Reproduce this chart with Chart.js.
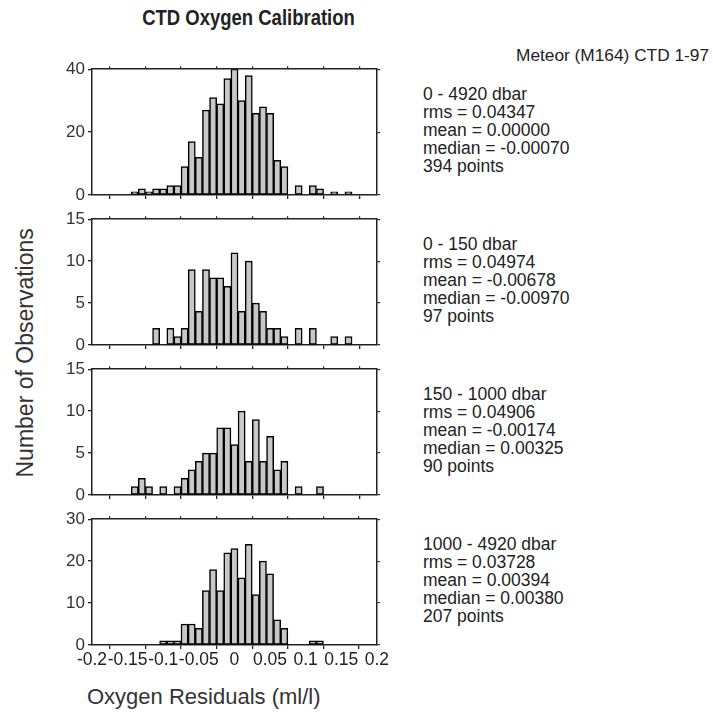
<!DOCTYPE html>
<html>
<head>
<meta charset="utf-8">
<script src="https://cdn.jsdelivr.net/npm/chart.js@4.4.0/dist/chart.umd.min.js"></script>
<style>
body { margin: 0; background: #fff; width: 713px; height: 718px; position: relative; overflow: hidden;
       font-family: "Liberation Sans", Arial, sans-serif; color: #222; }
canvas { position: absolute; }
.txt { position: absolute; white-space: nowrap; }
.stats { position: absolute; left: 423px; font-size: 17.5px; line-height: 18px; color: #222; white-space: nowrap; }
</style>
</head>
<body>
<div class="txt" style="left:0; width:497px; top:6px; text-align:center; font-weight:bold; font-size:21.5px; transform:scaleX(0.86);">CTD Oxygen Calibration</div>
<div class="txt" style="left:516px; top:45px; font-size:17.3px;">Meteor (M164) CTD 1-97</div>
<div class="txt" style="left:-98px; top:341px; width:246px; text-align:center; font-size:23px; color:#333; transform:rotate(-90deg);">Number of Observations</div>
<div class="txt" style="left:87px; top:684px; font-size:22px; color:#333;">Oxygen Residuals (ml/l)</div>

<script>
// bin centres (ml/l)
var binCenters = [-0.14, -0.13, -0.12, -0.11, -0.10, -0.09, -0.08, -0.07, -0.06, -0.05, -0.04,
	-0.03, -0.02, -0.01, 0, 0.01, 0.02, 0.03, 0.04, 0.05, 0.06, 0.07, 0.08, 0.09, 0.10,
	0.11, 0.12, 0.13, 0.14, 0.15, 0.16];

// counts per bin, one list per pressure range
var countsAll  = [1, 2, 1, 2, 2, 3, 3, 9, 17, 12, 27, 31, 29, 37, 40, 30, 38, 26, 28, 26, 11, 9, 0, 3, 0, 3, 2, 0, 1, 0, 1];
var countsTop  = [0, 0, 0, 2, 0, 2, 1, 2, 9, 4, 9, 8, 8, 7, 11, 4, 10, 5, 4, 2, 2, 1, 0, 2, 0, 2, 0, 0, 1, 0, 1];
var countsMid  = [1, 2, 1, 0, 1, 0, 1, 2, 3, 4, 5, 5, 8, 8, 6, 10, 4, 9, 4, 7, 3, 4, 0, 1, 0, 0, 1, 0, 0, 0, 0];
var countsDeep = [0, 0, 0, 0, 1, 1, 1, 5, 5, 4, 13, 18, 13, 22, 23, 16, 24, 12, 20, 17, 6, 4, 0, 0, 0, 1, 1, 0, 0, 0, 0];

var xTicks = [-0.2, -0.15, -0.1, -0.05, 0, 0.05, 0.1, 0.15, 0.2];

var rangeLabels = ['0 - 4920 dbar', '0 - 150 dbar', '150 - 1000 dbar', '1000 - 4920 dbar'];
var rmsValues = ['0.04347', '0.04974', '0.04906', '0.03728'];
var meanValues = ['0.00000', '-0.00678', '-0.00174', '0.00394'];
var medianValues = ['-0.00070', '-0.00970', '0.00325', '0.00380'];
var pointCounts = [394, 97, 90, 207];

var yMax = [40, 15, 15, 30];
var yStep = [20, 5, 5, 10];

var panels = [countsAll, countsTop, countsMid, countsDeep];
var panelTop = [66, 216, 366, 516];
var plotH = 129;

function make_panel(i) {
	var canvas = document.createElement('canvas');
	canvas.width = 340;
	canvas.height = plotH + 10 + 32;
	canvas.style.left = '50px';
	canvas.style.top = (panelTop[i] - 10) + 'px';
	document.body.appendChild(canvas);

	var points = [];
	for (let k = 0; k < binCenters.length; k++) {
		if (panels[i][k] > 0) points.push({ x: binCenters[k], y: panels[i][k] });
	}

	var last = (i == panels.length - 1);
	var lineCol = '#222';
	var grid = { drawOnChartArea: false, tickLength: 4, color: lineCol, lineWidth: 1.3 };
	var border = { color: lineCol, width: 1.5 };

	new Chart(canvas.getContext('2d'), {
		type: 'bar',
		data: {
			datasets: [{
				data: points,
				backgroundColor: '#c8c8c8',
				borderColor: '#000',
				borderWidth: 1.5,
				borderSkipped: false,
				barPercentage: 1,
				categoryPercentage: 1,
				xAxisID: 'x',
				yAxisID: 'y'
			}]
		},
		options: {
			responsive: false,
			animation: false,
			layout: { padding: { top: 7, right: 10, left: 0, bottom: 0 } },
			plugins: { legend: { display: false }, tooltip: { enabled: false } },
			scales: {
				x: {
					type: 'linear', position: 'bottom', min: -0.2, max: 0.2, offset: false,
					afterBuildTicks: function (s) { s.ticks = xTicks.map(function (v) { return { value: v }; }); },
					ticks: {
						display: last, autoSkip: false, maxRotation: 0, padding: 1,
						font: { family: 'Liberation Sans', size: 17.5 }, color: '#222',
						callback: function (v) { return String(+v.toFixed(2)); }
					},
					grid: grid, border: border,
					afterFit: function (s) { s.height = 32; }
				},
				x2: {
					type: 'linear', position: 'top', min: -0.2, max: 0.2, offset: false,
					afterBuildTicks: function (s) { s.ticks = xTicks.map(function (v) { return { value: v }; }); },
					ticks: { display: false },
					grid: { drawOnChartArea: false, tickLength: 3, color: lineCol, lineWidth: 1.2 }, border: border,
					afterFit: function (s) { s.height = 3; }
				},
				y: {
					min: 0, max: yMax[i],
					ticks: { stepSize: yStep[i], padding: 3, font: { family: 'Liberation Sans', size: 17 }, color: '#333' },
					grid: grid, border: border,
					afterFit: function (s) { s.width = 42; }
				},
				y2: {
					position: 'right', min: 0, max: yMax[i],
					ticks: { display: false, stepSize: yStep[i] },
					grid: { drawOnChartArea: false, tickLength: 3, color: lineCol, lineWidth: 1.2 }, border: border,
					afterFit: function (s) { s.width = 3; }
				}
			}
		}
	});

	var box = document.createElement('div');
	box.className = 'stats';
	box.style.top = (panelTop[i] + 19) + 'px';
	box.innerHTML = rangeLabels[i] + '<br>rms = ' + rmsValues[i] + '<br>mean = ' + meanValues[i] +
		'<br>median = ' + medianValues[i] + '<br>' + pointCounts[i] + ' points';
	document.body.appendChild(box);
}

for (let i = 0; i < panels.length; i++) make_panel(i);
</script>
</body>
</html>
